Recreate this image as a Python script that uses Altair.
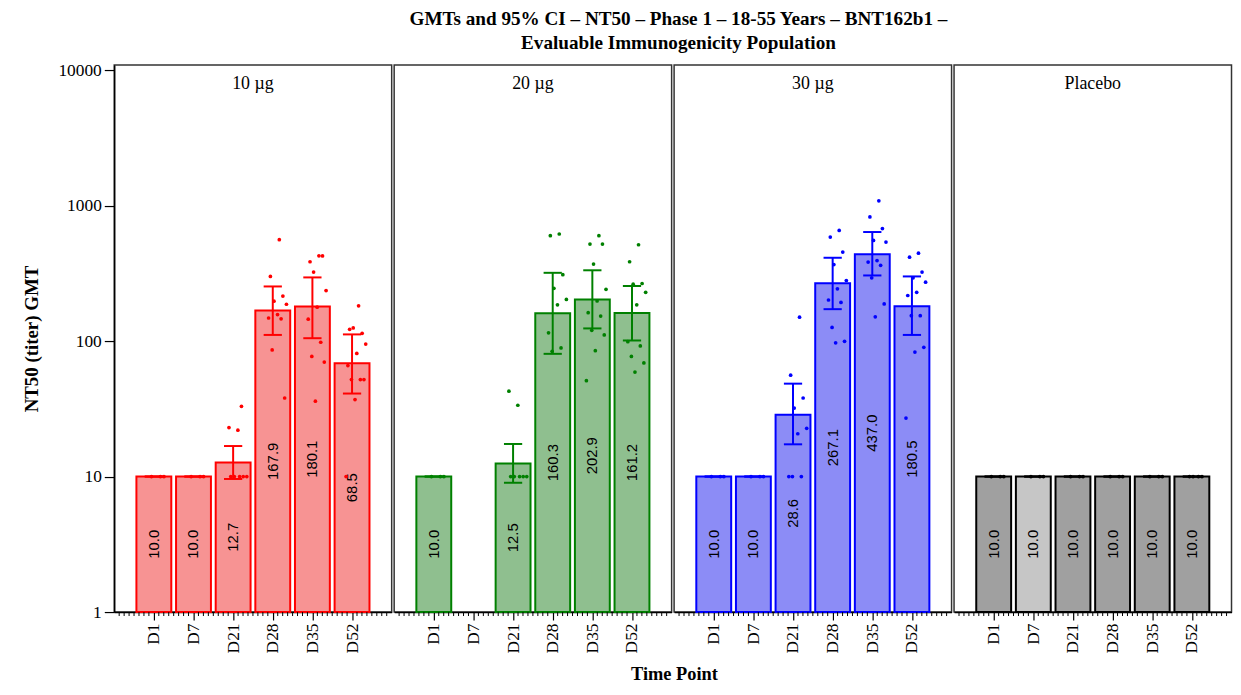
import json
import altair as alt
import numpy as np
import pandas as pd

times = ["D1", "D7", "D21", "D28", "D35", "D52"]
doses = ["10 µg", "20 µg", "30 µg", "Placebo"]

# GMT and 95% CI per dose group (None = no data)
gmt_10 = [10.0, 10.0, 12.7, 167.9, 180.1, 68.5]
lo_10 = [10.0, 10.0, 9.6, 111, 105, 41]
hi_10 = [10.0, 10.0, 16.8, 253, 295, 112]

gmt_20 = [10.0, None, 12.5, 160.3, 202.9, 161.2]
lo_20 = [10.0, None, 9.0, 80.5, 124, 101]
hi_20 = [10.0, None, 17.4, 319, 333, 255]

gmt_30 = [10.0, 10.0, 28.6, 267.1, 437.0, 180.5]
lo_30 = [10.0, 10.0, 17.3, 172, 305, 111]
hi_30 = [10.0, 10.0, 48.5, 412, 638, 300]

gmt_pl = [10.0, 10.0, 10.0, 10.0, 10.0, 10.0]
lo_pl = [10.0, 10.0, 10.0, 10.0, 10.0, 10.0]
hi_pl = [10.0, 10.0, 10.0, 10.0, 10.0, 10.0]

# individual titers
pts_10 = {
    "D1": [10, 10, 10],
    "D7": [10, 10, 10],
    "D21": [10, 10, 10, 10, 10, 22, 23, 33],
    "D28": [560, 300, 215, 197, 187, 157, 148, 146, 86, 38],
    "D35": [426, 385, 425, 323, 236, 178, 145, 98, 77, 70, 36],
    "D52": [182, 122, 114, 125, 95, 81, 66, 52, 52, 52, 37, 10],
}
pts_20 = {
    "D1": [10, 10, 10],
    "D7": [],
    "D21": [10, 10, 10, 10, 10, 33.6, 42.7],
    "D28": [617, 600, 309, 245, 203, 185, 115, 89, 84],
    "D35": [600, 520, 520, 370, 241, 198, 162, 153, 120, 111, 85, 51],
    "D52": [514, 385, 266, 263, 229, 185, 99, 92, 77, 69, 59],
}
pts_30 = {
    "D1": [10, 10, 10],
    "D7": [10, 10, 10],
    "D21": [150, 56, 38, 32, 22.7, 20.7, 10, 10, 10],
    "D28": [656, 586, 454, 367, 280, 243, 201, 193, 126, 99.5, 97],
    "D35": [1084, 824, 676, 553, 538, 393, 383, 362, 293, 188, 151],
    "D52": [445, 416, 323, 293, 272, 229, 217, 154, 154, 90, 83, 27],
}
pts_pl = {
    "D1": [10, 10, 10],
    "D7": [10, 10, 10],
    "D21": [10, 10, 10],
    "D28": [10, 10, 10],
    "D35": [10, 10, 10],
    "D52": [10, 10, 10, 10],
}

groups = {
    "10 µg": (gmt_10, lo_10, hi_10, pts_10),
    "20 µg": (gmt_20, lo_20, hi_20, pts_20),
    "30 µg": (gmt_30, lo_30, hi_30, pts_30),
    "Placebo": (gmt_pl, lo_pl, hi_pl, pts_pl),
}

styles = {
    "10 µg": ("#ff0000", "#f79393", "#f79393"),
    "20 µg": ("#008000", "#8fbf8f", "#8fbf8f"),
    "30 µg": ("#0000ff", "#8c8cf6", "#8c8cf6"),
    "Placebo": ("#000000", "#a0a0a0", "#c6c6c6"),
}

W, H = 279.5, 551
SERIF = "Liberation Serif"
SANS = "Liberation Sans"

xs = alt.Scale(domain=[-1, 6], nice=False, zero=False)
ys = alt.Scale(type="log", domain=[1, 10890], nice=False)
lab_expr = json.dumps(times).replace('"', "'") + "[datum.value]"

minor = [float(v) for v in np.arange(-1, 6.001, 0.125) if abs(v - round(v)) > 1e-9]
ticks_df = pd.DataFrame({"pos": minor})

XAXIS = alt.Axis(values=[0, 1, 2, 3, 4, 5], labelExpr=lab_expr, title=None,
                 labelAngle=270, tickSize=8, labelPadding=3, grid=False)
YAXIS = alt.Axis(values=[1, 10, 100, 1000, 10000], format="d", tickSize=10,
                 labelPadding=3, grid=False, title="NT50 (titer) GMT", titlePadding=17)


def xenc(field):
    return alt.X(field, type="quantitative", scale=xs, axis=XAXIS)


def yenc(field, first):
    return alt.Y(field, type="quantitative", scale=ys, axis=YAXIS if first else None)


def panel(dose, first):
    gmt, lo, hi, pts = groups[dose]
    stroke, fill, fill7 = styles[dose]
    rows = [dict(time=t, idx=i, gmt=g, lo=l, hi=h)
            for i, (t, g, l, h) in enumerate(zip(times, gmt, lo, hi)) if g is not None]
    bdf = pd.DataFrame(rows)
    prow = [dict(time=t, idx=i, value=v) for i, t in enumerate(times) for v in pts[t]]
    pdf = pd.DataFrame(prow)

    fill_enc = alt.condition("datum.time == 'D7'", alt.value(fill7), alt.value(fill))

    bars = alt.Chart(bdf).transform_calculate(
        xa="datum.idx - 0.44", xb="datum.idx + 0.44"
    ).mark_rect(stroke=stroke, strokeWidth=2).encode(
        x=xenc("xa"), x2="xb:Q", y=yenc("gmt", first), y2=alt.datum(1), fill=fill_enc
    )
    labels = alt.Chart(bdf).transform_calculate(
        mid="sqrt(datum.gmt)"
    ).mark_text(angle=270, font=SANS, fontSize=15, color="black").encode(
        x=xenc("idx"), y=yenc("mid", first), text=alt.Text("gmt:Q", format=".1f")
    )
    whisk = alt.Chart(bdf).mark_rule(color=stroke, strokeWidth=2).encode(
        x=xenc("idx"), y=yenc("lo", first), y2="hi:Q"
    )
    caps = alt.Chart(bdf).transform_fold(["lo", "hi"], as_=["k", "v"]).transform_calculate(
        ca="datum.idx - 0.23", cb="datum.idx + 0.23"
    ).mark_rule(color=stroke, strokeWidth=2).encode(
        x=xenc("ca"), x2="cb:Q", y=yenc("v", first)
    )
    points = alt.Chart(pdf).transform_window(
        rn="row_number()", groupby=["time"]
    ).transform_calculate(
        xj="datum.idx - 0.15 + ((datum.rn * 7) % 12) * 0.045"
    ).mark_circle(size=14, color=stroke, opacity=1).encode(
        x=xenc("xj"), y=yenc("value", first)
    )
    mticks = alt.Chart(ticks_df).mark_rule(color="black", strokeWidth=1).encode(
        x=xenc("pos"), y=alt.value(H), y2=alt.value(H + 4)
    )
    head = alt.Chart(pd.DataFrame({"label": [dose]})).mark_text(
        font=SERIF, fontSize=18, color="black", baseline="middle"
    ).encode(text="label:N", x=alt.value(W / 2), y=alt.value(19))

    return alt.layer(bars, labels, whisk, caps, points, mticks, head).properties(width=W, height=H)


panels = [panel(d, i == 0) for i, d in enumerate(doses)]

inner = alt.hconcat(*panels, spacing=0).properties(
    title=alt.TitleParams("Time Point", orient="bottom", anchor="middle",
                          font=SERIF, fontSize=18.5, fontWeight="bold", color="black",
                          offset=12, dx=48)
)

chart = alt.vconcat(inner).properties(
    title=alt.TitleParams(
        ["GMTs and 95% CI – NT50 – Phase 1 – 18-55 Years – BNT162b1 –",
         "Evaluable Immunogenicity Population"],
        anchor="middle", font=SERIF, fontSize=19.3, fontWeight="bold",
        color="black", lineHeight=24, offset=7, dx=52),
    padding={"left": 13, "top": 0, "right": 0, "bottom": 0},
).configure_view(
    stroke="#333333", strokeWidth=1.5
).configure_axis(
    domainColor="black", tickColor="black", labelColor="black", labelFont=SERIF,
    labelFontSize=17.5, titleFont=SERIF, titleFontSize=19, titleFontWeight="bold",
    titleColor="black", domainWidth=1.5, tickWidth=1.2
)

chart.save("out.html", embed_options={"renderer": "svg", "actions": False})
